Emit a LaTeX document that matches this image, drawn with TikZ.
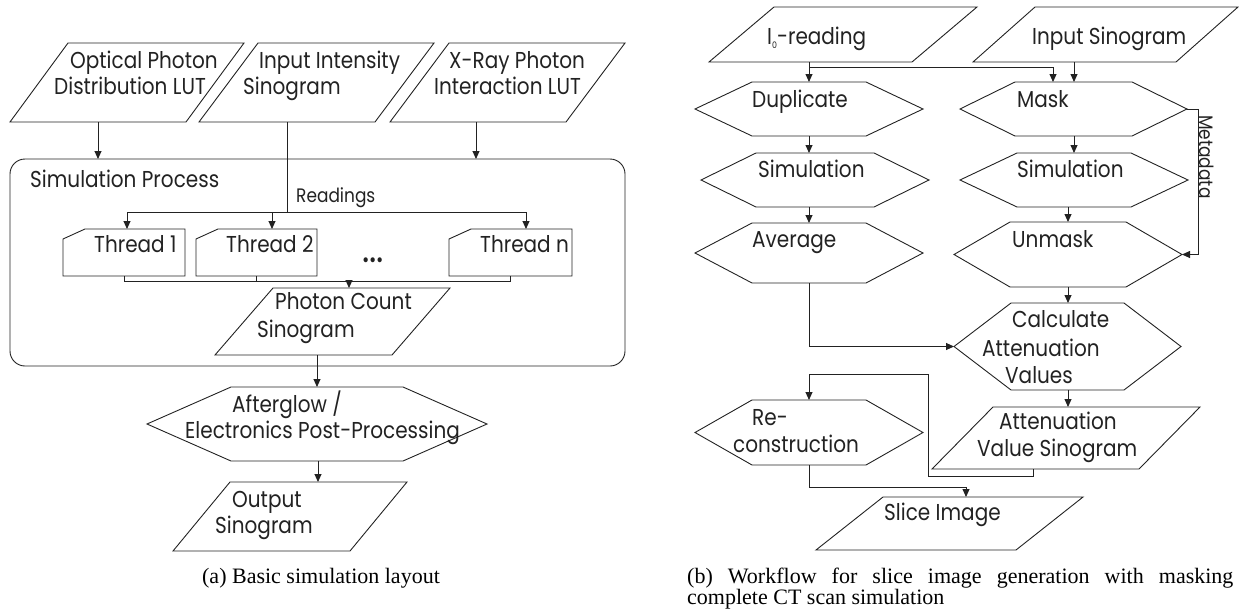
\documentclass[tikz,border=0pt]{standalone}
\usepackage{fontspec}
\setmainfont{Liberation Serif}
\newfontfamily\gothic[FakeStretch=0.87]{Poppins}
\usetikzlibrary{arrows.meta,calc}

\definecolor{ink}{HTML}{222222}

\tikzset{
  x=1pt, y=-1pt,
  ln/.style={draw=ink, line width=0.9pt},
  arr/.style={ln, -{Triangle[length=8pt,width=7pt]}},
  area/.style={draw=none, rectangle, inner sep=0pt, outer sep=0pt},
  txt/.style={inner sep=0pt, anchor=base west, text=ink,
    font=\gothic\fontsize{23}{26}\selectfont},
  small/.style={txt, font=\gothic\fontsize{19.5}{22}\selectfont},
  capt/.style={inner sep=0pt, text=black, font=\fontsize{22}{20}\selectfont},
}

% invisible box between two corners
\newcommand\areanode[5]{%
  \node[area, minimum width={#4pt-#2pt}, minimum height={#5pt-#3pt}]
    (#1) at ({(#2+#4)/2},{(#3+#5)/2}) {};}
% parallelogram: name, x left, y top, x right, y bottom, slant
\newcommand\paranode[6]{%
  \areanode{#1}{#2}{#3}{#4}{#5}
  \draw[ln] ($(#1.north west)+(#6,0)$) -- (#1.north east)
    -- ($(#1.south east)-(#6,0)$) -- (#1.south west) -- cycle;}
% hexagon: name, x left, y top, x right, y bottom, inset
\newcommand\hexnode[6]{%
  \areanode{#1}{#2}{#3}{#4}{#5}
  \draw[ln] ($(#1.north west)+(#6,0)$) -- ($(#1.north east)-(#6,0)$)
    -- (#1.east) -- ($(#1.south east)-(#6,0)$)
    -- ($(#1.south west)+(#6,0)$) -- (#1.west) -- cycle;}
% thread card with a cut top-left corner
\newcommand\cardnode[5]{%
  \areanode{#1}{#2}{#3}{#4}{#5}
  \draw[ln] ($(#1.north west)+(0,10)$) -- ($(#1.north west)+(22,0)$)
    -- (#1.north east) -- (#1.south east) -- (#1.south west) -- cycle;}

\begin{document}
\begin{tikzpicture}
\useasboundingbox (0,0) rectangle (1239,608);

% ---------------- basic simulation layout ----------------
\paranode{optlut}{10}{43}{244}{122}{58}
\paranode{insino}{199}{43}{434}{122}{59}
\paranode{xraylut}{390}{43}{625}{122}{59}
\node[txt] (optlutA) at (70,68) {Optical Photon};
\node[txt] (optlutB) at (54,94) {Distribution LUT};
\node[txt] (insinoA) at (259,68) {Input Intensity};
\node[txt] (insinoB) at (243,94) {Sinogram};
\node[txt] (xraylutA) at (449,68) {X-Ray Photon};
\node[txt] (xraylutB) at (434,94) {Interaction LUT};

\areanode{simproc}{10}{159}{625}{366}
\draw[ln, rounded corners=15pt] (simproc.north west) rectangle (simproc.south east);
\node[txt] (simproct) at (30,187) {Simulation Process};

\cardnode{th1}{63}{229}{185}{276}
\cardnode{th2}{196}{229}{317}{276}
\cardnode{thn}{449}{229}{572}{276}
\node[txt] (th1t) at (94,252) {Thread 1};
\node[txt] (th2t) at (226,252) {Thread 2};
\node[txt] (thnt) at (480,252) {Thread n};
\node[txt, font=\gothic\fontsize{40}{40}\selectfont] (dots) at (362,262) {...};

\paranode{pcount}{215}{288}{450}{355}{58}
\node[txt] (pcountA) at (275,309) {Photon Count};
\node[txt] (pcountB) at (257,337) {Sinogram};

\hexnode{afterglow}{147}{387}{487}{461}{84}
\node[txt] (afterglowA) at (232,412) {Afterglow /};
\node[txt] (afterglowB) at (185,438) {Electronics Post-Processing};

\paranode{outsino}{173}{482}{407}{551}{57}
\node[txt] (outsinoA) at (232,507) {Output};
\node[txt] (outsinoB) at (215,533) {Sinogram};

% connector columns
\coordinate (xa) at (98,0);
\coordinate (xb) at (476,0);
\coordinate (xr) at (287,0);
\coordinate (rd) at (287,212);
\coordinate (x1) at (127,0);
\coordinate (x2) at (272,0);
\coordinate (xn) at (526,0);
\coordinate (join) at (349,281);
\coordinate (xp) at (317,0);
\coordinate (xo) at (318,0);

\draw[arr] (xa |- optlut.south) -- (xa |- simproc.north);
\draw[arr] (xb |- xraylut.south) -- (xb |- simproc.north);
\draw[ln] (xr |- insino.south) -- (rd);
\node[small] (readings) at (296,202) {Readings};
\draw[arr] (rd) -| (x1 |- th1.north);
\draw[arr] (rd) -| (xn |- thn.north);
\draw[arr] (x2 |- rd) -- (x2 |- th2.north);
\draw[ln] (th1.south) |- (thn.south |- join) -- (thn.south);
\draw[ln] (th2.south) -- (th2.south |- join);
\draw[arr] (join) -- (join |- pcount.north);
\draw[arr] (xp |- pcount.south) -- (xp |- afterglow.north);
\draw[arr] (xo |- afterglow.south) -- (xo |- outsino.north);

\node[capt, anchor=base] (capa) at (321,583) {(a) Basic simulation layout};

% ---------------- slice image workflow ----------------
\paranode{izero}{709}{7}{977}{62}{65}
\paranode{sino}{973}{7}{1238}{62}{62}
\node[txt] (izerot) at (767,44) {I\raisebox{-4pt}{\fontsize{9}{9}\selectfont 0}-reading};
\node[txt] (sinot) at (1032,44) {Input Sinogram};

\hexnode{dup}{695}{82}{923}{136}{57}
\hexnode{simL}{701}{153}{929}{207}{55}
\hexnode{avg}{695}{223}{923}{283}{57}
\hexnode{mask}{960}{82}{1187}{136}{55}
\hexnode{simR}{960}{153}{1188}{207}{57}
\hexnode{unmask}{954}{222}{1182}{287}{56}
\hexnode{calc}{954}{303}{1181}{390}{57}
\paranode{attsino}{932}{407}{1200}{469}{61}
\hexnode{recon}{695}{400}{923}{465}{57}
\paranode{slice}{816}{497}{1083}{550}{67}

\node[txt] (dupt) at (752,107) {Duplicate};
\node[txt] (simLt) at (758,177) {Simulation};
\node[txt] (avgt) at (752,247) {Average};
\node[txt] (maskt) at (1017,107) {Mask};
\node[txt] (simRt) at (1017,177) {Simulation};
\node[txt] (unmaskt) at (1012,247) {Unmask};
\node[txt] (calcA) at (1012,327) {Calculate};
\node[txt] (calcB) at (982,356) {Attenuation};
\node[txt] (calcC) at (1005,383) {Values};
\node[txt] (attsinoA) at (999,429) {Attenuation};
\node[txt] (attsinoB) at (977,456) {Value Sinogram};
\node[txt] (reconA) at (752,425) {Re-};
\node[txt] (reconB) at (733,452) {construction};
\node[txt] (slicet) at (884,520) {Slice Image};

\coordinate (cl) at (809,0);
\coordinate (br) at (809,67);
\coordinate (cb) at (1053,0);
\coordinate (ci) at (1074,0);
\coordinate (cu) at (1068,0);
\coordinate (ca) at (1033,0);
\coordinate (lpA) at (928,476);
\coordinate (lpB) at (928,374);
\coordinate (lpC) at (966,487);

\draw[arr] (cl |- izero.south) -- (cl |- dup.north);
\draw[arr] (br) -| (cb |- mask.north);
\draw[arr] (ci |- sino.south) -- (ci |- mask.north);
\draw[arr] (cl |- dup.south) -- (cl |- simL.north);
\draw[arr] (cl |- simL.south) -- (cl |- avg.north);
\draw[arr] (cl |- avg.south) |- (calc.west);
\draw[arr] (ci |- mask.south) -- (ci |- simR.north);
\draw[arr] (cu |- simR.south) -- (cu |- unmask.north);
\draw[arr] (cu |- unmask.south) -- (cu |- calc.north);
\draw[arr] (cu |- calc.south) -- (cu |- attsino.north);
\draw[arr] (mask.east) -- ++(11,0) |- (unmask.east);
\node[small, rotate=-90] (meta) at (1199,115) {Metadata};
\draw[arr] (ca |- attsino.south) |- (lpA) -- (lpB) -| (cl |- recon.north);
\draw[arr] (cl |- recon.south) |- (lpC) -- (lpC |- slice.north);

\node[capt, anchor=base west, text width=587pt, align=justify] (capb) at (687,583)
  {(b) Workflow for slice image generation with masking for\linebreak
   complete CT scan simulation};
\end{tikzpicture}
\end{document}
